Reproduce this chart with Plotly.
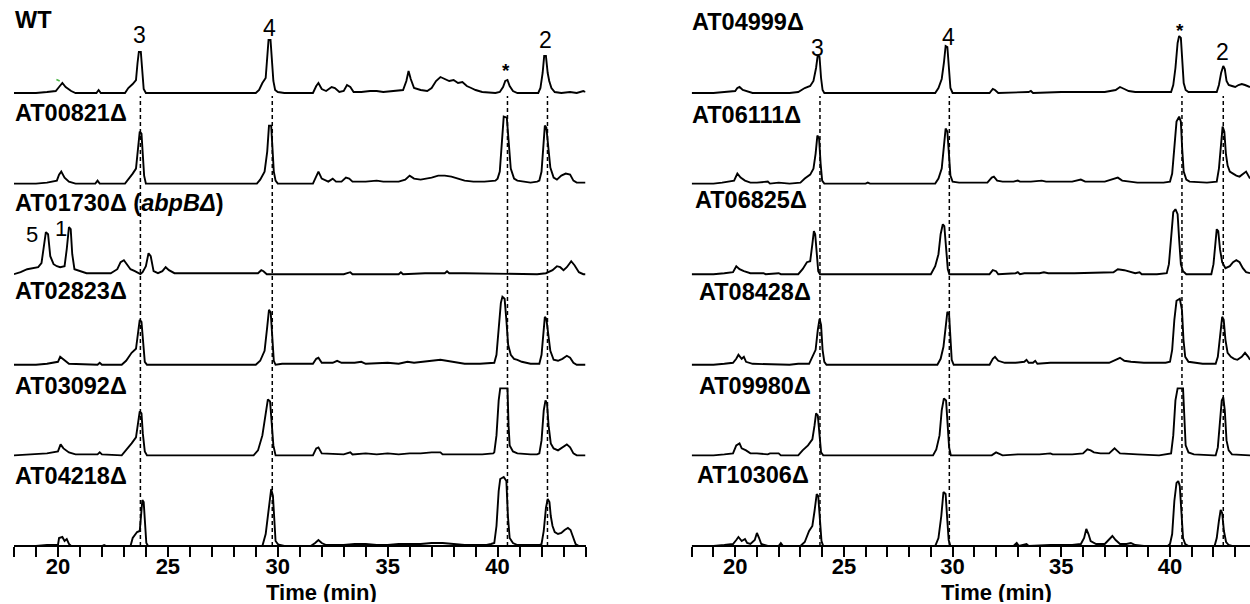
import plotly.graph_objects as go

# ---------------- data (time in min, signal in arbitrary units) ----------------
WT = [(18.0,0),(19.0,0),(19.5,1),(19.9,2),(20.05,6),(20.2,10),(20.35,6),(20.6,2),(20.8,0),(21.75,0),(21.85,3),(21.95,0),
      (23.05,0),(23.2,5),(23.4,9),(23.55,13),(23.62,30),(23.68,41),(23.77,41),(23.83,20),(23.9,4),(24.0,0),(26.5,0),
      (29.0,0),(29.15,3),(29.3,10),(29.45,15),(29.52,35),(29.58,53),(29.67,53),(29.73,30),(29.8,12),(29.88,3),(30.0,1),(30.3,0),
      (31.6,0),(31.75,7),(31.85,10),(32.0,4),(32.2,2),(32.45,6),(32.6,5),(32.8,1),(33.0,2),(33.15,8),(33.3,6),(33.45,1),(33.8,1),
      (34.2,2),(34.5,2),(34.8,1),(35.2,2),(35.7,3),(35.85,12),(35.95,22),(36.05,14),(36.2,5),(36.5,3),(36.8,2),(37.0,5),
      (37.2,12),(37.4,16),(37.6,14),(37.8,12),(38.0,13),(38.2,10),(38.4,11),(38.6,7),(38.8,5),(39.0,3),(39.3,1),(39.9,0),
      (40.1,1),(40.25,6),(40.35,12),(40.45,13),(40.55,7),(40.7,2),(40.9,0),(41.85,0),(41.95,5),(42.05,20),(42.12,37),(42.2,37),
      (42.28,20),(42.35,12),(42.45,5),(42.6,1),(42.9,0),(43.3,1),(43.6,0),(43.9,2),(44.0,1)]
AT00821 = [(18.0,0),(19.0,0),(19.5,1),(19.95,3),(20.05,9),(20.15,12),(20.3,6),(20.5,2),(20.8,0),(21.7,0),(21.8,3),(21.9,0),
      (23.05,0),(23.2,4),(23.4,10),(23.55,15),(23.65,35),(23.72,52),(23.8,50),(23.86,28),(23.92,8),(24.0,0),
      (29.05,0),(29.2,4),(29.4,12),(29.52,32),(29.6,58),(29.7,58),(29.76,34),(29.82,12),(29.9,3),(30.0,0),
      (31.6,0),(31.75,8),(31.85,12),(32.0,5),(32.3,2),(32.5,5),(32.65,2),(32.9,2),(33.1,6),(33.25,5),(33.4,2),(34.0,2),(34.5,3),
      (34.8,2),(35.5,2),(35.8,4),(36.0,8),(36.2,5),(36.5,4),(37.0,6),(37.3,8),(37.6,8),(37.9,7),(38.2,5),(38.5,3),(38.9,2),
      (39.4,2),(39.9,3),(40.0,5),(40.1,12),(40.2,40),(40.28,67),(40.42,66),(40.5,45),(40.6,15),(40.75,5),(40.9,3),(41.2,2),
      (41.5,1),(41.8,2),(41.9,3),(42.0,12),(42.08,40),(42.15,58),(42.22,56),(42.3,35),(42.4,16),(42.55,6),(42.7,4),(42.9,8),
      (43.1,10),(43.3,9),(43.45,3),(43.6,1),(44.0,1)]
AT01730 = [(18.0,0),(18.3,2),(18.6,5),(18.9,6),(19.1,7),(19.25,11),(19.35,25),(19.45,42),(19.55,40),(19.65,18),(19.8,10),
      (19.95,8),(20.1,7),(20.3,8),(20.4,25),(20.5,47),(20.58,45),(20.65,20),(20.75,5),(21.0,3),(21.3,1),(21.8,1),(22.4,1),
      (22.7,5),(22.85,12),(23.0,14),(23.15,9),(23.3,5),(23.5,3),(23.75,0),(23.85,2),(24.0,8),(24.12,21),(24.22,18),(24.35,3),
      (24.55,1),(24.75,3),(24.9,7),(25.05,4),(25.3,1),(26.5,1),(27.5,1),(28.5,1),(29.1,1),(29.25,4),(29.35,3),(29.5,0),
      (33.0,0),(33.3,2),(33.4,0),(35.5,0),(35.6,2),(35.7,0),(36.7,1),(37.6,1),(37.7,3),(37.8,1),(38.5,1),(41.8,0),(42.2,1),
      (42.5,4),(42.7,8),(42.85,7),(43.0,4),(43.15,7),(43.35,13),(43.5,9),(43.7,2),(43.9,0),(44.0,0)]
AT02823 = [(18.0,0),(19.0,0),(19.5,1),(20.0,3),(20.1,8),(20.25,5),(20.5,1),(21.8,0),(21.9,2),(22.0,0),(22.9,0),(23.1,4),
      (23.35,12),(23.55,16),(23.65,32),(23.72,45),(23.8,43),(23.87,20),(23.95,3),(24.05,0),
      (29.0,0),(29.2,4),(29.4,14),(29.52,38),(29.6,55),(29.68,52),(29.75,25),(29.82,4),(29.9,0),(30.2,1),(31.0,1),(31.6,1),
      (31.75,6),(31.85,7),(32.0,2),(32.5,2),(32.7,4),(32.9,2),(33.5,2),(33.8,3),(34.0,1),(34.6,2),(35.0,2),(35.5,1),(35.9,3),
      (36.2,2),(36.8,3),(37.0,4),(37.4,5),(37.7,4),(38.0,3),(38.5,1),(39.2,1),(39.8,2),(39.85,2),(39.95,10),(40.05,40),
      (40.15,62),(40.22,68),(40.32,66),(40.4,45),(40.48,20),(40.6,10),(40.75,6),(40.9,5),(41.1,3),(41.5,1),(41.8,1),(41.9,1),
      (42.0,10),(42.08,35),(42.15,48),(42.22,46),(42.3,30),(42.4,14),(42.55,5),(42.75,4),(42.95,6),(43.15,9),(43.3,7),
      (43.45,2),(43.6,0),(44.0,0)]
AT03092 = [(18.0,0),(19.2,1),(19.5,2),(20.0,4),(20.12,11),(20.25,7),(20.5,3),(20.8,1),(21.8,1),(21.9,3),(22.0,1),(22.9,0),
      (23.1,5),(23.35,12),(23.55,18),(23.65,32),(23.72,44),(23.8,42),(23.86,22),(23.95,4),(24.05,0),(28.9,0),(29.1,5),
      (29.3,20),(29.45,45),(29.55,56),(29.65,54),(29.72,35),(29.8,10),(29.9,0),(31.6,0),(31.75,7),(31.85,8),(32.0,2),(33.0,1),
      (33.3,3),(33.4,1),(34.0,2),(34.5,1),(35.0,2),(35.5,1),(36.0,2),(36.5,2),(37.0,3),(37.4,3),(37.5,1),(38.0,1),(39.3,1),
      (39.8,2),(39.85,3),(39.95,20),(40.05,55),(40.12,67),(40.45,67),(40.5,30),(40.55,10),(40.7,4),(40.9,2),(41.5,1),(41.8,1),
      (41.9,2),(42.0,15),(42.1,45),(42.18,55),(42.25,52),(42.32,30),(42.42,12),(42.55,7),(42.75,5),(42.95,8),(43.15,11),
      (43.3,8),(43.45,2),(43.6,0),(44.0,0)]
AT04218 = [(18.0,0),(19.0,0),(19.5,1),(20.0,1),(20.05,8),(20.2,9),(20.3,5),(20.4,7),(20.5,2),(20.6,0),(22.0,0),(22.1,1),
      (22.2,0),(23.3,0),(23.4,8),(23.6,14),(23.72,15),(23.78,35),(23.84,46),(23.9,44),(23.96,20),(24.02,3),(24.1,0),(29.3,0),
      (29.45,12),(29.55,30),(29.62,45),(29.7,57),(29.78,50),(29.84,20),(29.9,5),(30.0,2),(30.1,1),(30.3,0),(31.5,0),(31.7,3),
      (31.85,6),(32.0,3),(32.2,1),(33.0,1),(33.5,2),(34.0,2),(34.5,1),(35.0,1),(35.5,2),(36.0,2),(36.5,2),(37.0,3),(37.5,3),
      (38.0,2),(38.5,1),(39.0,1),(39.5,1),(39.7,2),(39.85,3),(39.95,20),(40.05,55),(40.12,67),(40.28,69),(40.4,65),(40.47,30),
      (40.55,8),(40.7,3),(40.9,1),(41.5,1),(41.9,1),(42.0,2),(42.1,15),(42.2,38),(42.28,47),(42.36,44),(42.42,30),(42.5,20),
      (42.6,14),(42.75,12),(42.9,13),(43.05,16),(43.2,18),(43.32,16),(43.45,8),(43.55,2),(43.7,0),(44.0,0)]

AT04999 = [(18.0,0),(19.0,0),(19.5,1),(20.0,2),(20.1,5),(20.2,6),(20.35,3),(20.5,2),(20.8,0),(22.5,0),(22.9,1),(23.2,5),
      (23.45,7),(23.6,12),(23.72,25),(23.8,38),(23.88,36),(23.95,15),(24.02,3),(24.1,0),(29.2,0),(29.35,5),(29.5,14),
      (29.6,30),(29.68,47),(29.76,46),(29.82,25),(29.9,5),(30.0,0),(31.7,0),(31.85,4),(31.95,3),(32.1,0),(33.5,1),(33.6,2),
      (33.7,0),(35.0,1),(35.5,1),(37.0,1),(37.5,3),(37.7,6),(37.9,4),(38.1,2),(38.4,1),(39.7,1),(40.05,1),(40.15,8),
      (40.25,25),(40.35,50),(40.42,57),(40.5,55),(40.56,30),(40.63,10),(40.72,3),(40.85,1),(41.8,1),(42.15,1),(42.25,8),
      (42.35,20),(42.45,27),(42.52,24),(42.6,12),(42.7,8),(42.85,7),(43.0,6),(43.15,8),(43.3,9),(43.45,8),(43.68,6)]
AT06111 = [(18.0,0),(19.0,0),(19.4,1),(19.7,2),(19.95,3),(20.1,10),(20.25,6),(20.45,3),(20.7,1),(21.0,1),(21.5,2),(21.6,0),
      (22.0,1),(22.5,0),(23.0,1),(23.2,5),(23.45,9),(23.6,15),(23.7,30),(23.78,48),(23.86,45),(23.93,20),(24.0,3),(24.1,0),
      (26.0,0),(26.1,1),(26.2,0),(29.2,0),(29.35,5),(29.5,15),(29.6,35),(29.68,55),(29.76,52),(29.82,30),(29.9,8),(30.0,2),
      (30.3,1),(31.0,1),(31.6,1),(31.8,6),(31.9,7),(32.05,3),(32.3,2),(32.8,2),(33.0,3),(33.1,2),(33.6,2),(34.1,3),(34.3,2),
      (35.0,2),(35.5,2),(35.9,4),(36.1,2),(37.0,2),(37.4,5),(37.6,6),(37.8,3),(38.5,1),(39.7,1),(40.0,2),(40.1,10),(40.2,35),
      (40.3,62),(40.42,67),(40.5,62),(40.56,35),(40.63,12),(40.75,4),(40.9,2),(41.7,1),(42.0,2),(42.15,2),(42.25,15),(42.35,45),
      (42.42,57),(42.5,52),(42.57,30),(42.65,18),(42.75,12),(42.9,10),(43.05,8),(43.2,7),(43.35,10),(43.5,12),(43.68,5)]
AT06825 = [(18.0,0),(19.0,0),(19.5,1),(19.9,2),(20.05,8),(20.2,5),(20.4,3),(20.7,1),(21.3,1),(21.4,0),(22.0,1),(22.1,0),
      (22.9,0),(23.1,5),(23.3,12),(23.45,13),(23.55,30),(23.62,43),(23.68,40),(23.75,18),(23.82,3),(23.9,0),(29.0,0),
      (29.2,8),(29.35,20),(29.45,40),(29.55,50),(29.62,48),(29.7,25),(29.78,5),(29.85,0),(31.7,0),(31.85,4),(32.0,3),(32.1,0),
      (32.9,1),(33.0,2),(33.1,0),(33.3,1),(34.0,1),(34.2,2),(34.4,1),(35.3,1),(35.6,1),(37.4,2),(37.6,5),(37.9,4),(38.2,2),
      (38.4,1),(38.6,2),(38.7,0),(39.4,0),(39.85,1),(39.95,10),(40.05,40),(40.15,62),(40.25,65),(40.35,60),(40.42,35),
      (40.5,10),(40.6,3),(40.75,0),(41.6,0),(41.9,0),(42.0,10),(42.08,30),(42.15,45),(42.22,43),(42.3,25),(42.4,12),(42.55,6),
      (42.75,8),(42.9,12),(43.05,14),(43.2,12),(43.35,6),(43.5,2),(43.68,1)]
AT08428 = [(18.0,0),(19.0,0),(19.5,1),(19.9,2),(20.05,6),(20.15,10),(20.3,6),(20.4,8),(20.5,3),(20.8,1),(22.5,0),(22.9,1),
      (23.4,1),(23.55,8),(23.7,15),(23.8,35),(23.88,46),(23.95,40),(24.02,15),(24.1,3),(24.2,0),(29.3,0),(29.45,6),(29.58,18),
      (29.68,35),(29.76,53),(29.84,50),(29.9,25),(29.96,5),(30.05,0),(31.7,0),(31.85,6),(31.95,8),(32.1,4),(32.4,2),(32.9,2),
      (33.3,3),(33.4,5),(33.5,2),(33.7,2),(33.8,4),(33.9,1),(34.5,2),(35.0,2),(35.5,2),(36.0,2),(37.2,2),(37.5,5),(37.7,7),
      (37.9,4),(38.2,3),(38.8,2),(39.3,2),(39.8,2),(40.0,3),(40.1,15),(40.2,45),(40.3,64),(40.45,66),(40.55,55),(40.62,25),
      (40.7,8),(40.85,3),(41.1,2),(41.5,1),(42.0,1),(42.1,1),(42.2,8),(42.3,30),(42.4,48),(42.47,45),(42.55,25),(42.65,12),
      (42.8,8),(42.95,6),(43.1,5),(43.3,8),(43.45,12),(43.6,8),(43.68,5)]
AT09980 = [(18.0,0),(19.0,0),(19.5,1),(19.9,2),(20.05,10),(20.2,12),(20.3,7),(20.5,5),(20.7,2),(21.0,2),(21.5,1),(21.6,2),
      (22.0,2),(22.1,0),(22.9,0),(23.1,5),(23.35,10),(23.55,16),(23.65,30),(23.72,42),(23.8,40),(23.87,18),(23.95,3),(24.05,0),
      (29.1,0),(29.25,6),(29.4,20),(29.5,45),(29.6,57),(29.7,55),(29.77,30),(29.84,8),(29.92,0),(31.8,0),(32.0,3),(32.1,2),
      (32.3,0),(33.0,1),(33.5,1),(34.0,1),(34.5,2),(34.6,1),(35.5,1),(36.0,2),(36.2,6),(36.35,5),(36.5,3),(36.8,2),(37.2,2),
      (37.45,7),(37.55,5),(37.7,2),(38.5,1),(39.5,0),(40.05,2),(40.15,20),(40.25,55),(40.35,67),(40.6,67),(40.66,35),
      (40.72,10),(40.85,3),(41.1,1),(42.0,0),(42.1,0),(42.2,8),(42.3,35),(42.38,55),(42.45,58),(42.52,45),(42.6,15),(42.7,5),
      (42.85,1),(43.68,0)]
AT10306 = [(18.0,0),(19.0,0),(19.5,1),(19.9,2),(20.05,6),(20.15,9),(20.3,5),(20.45,7),(20.55,3),(20.7,2),(20.9,6),(21.0,13),
      (21.1,8),(21.2,2),(21.5,0),(22.0,0),(22.1,3),(22.2,0),(23.0,0),(23.2,4),(23.4,15),(23.55,20),(23.65,35),(23.75,52),
      (23.82,50),(23.9,25),(23.97,5),(24.05,0),(29.2,0),(29.35,8),(29.48,30),(29.58,54),(29.68,52),(29.75,28),(29.82,6),
      (29.9,0),(32.8,0),(32.95,3),(33.05,0),(33.4,2),(33.5,0),(34.5,1),(35.5,1),(35.9,2),(36.05,8),(36.15,17),(36.25,12),
      (36.35,5),(36.6,2),(37.0,2),(37.2,6),(37.35,10),(37.5,6),(37.7,2),(38.0,2),(38.2,3),(38.4,1),(38.8,0),(39.9,0),(40.0,2),
      (40.1,12),(40.2,45),(40.3,63),(40.38,65),(40.45,60),(40.52,30),(40.6,8),(40.7,2),(40.85,0),(42.05,0),(42.15,8),(42.25,25),
      (42.33,36),(42.4,33),(42.48,15),(42.58,4),(42.7,1),(42.85,0),(43.68,0)]

LEFT_NAMES = ["WT", "AT00821Δ", "AT01730Δ (<i>abpBΔ</i>)", "AT02823Δ", "AT03092Δ", "AT04218Δ"]
LEFT_DATA = [WT, AT00821, AT01730, AT02823, AT03092, AT04218]
RIGHT_NAMES = ["AT04999Δ", "AT06111Δ", "AT06825Δ", "AT08428Δ", "AT09980Δ", "AT10306Δ"]
RIGHT_DATA = [AT04999, AT06111, AT06825, AT08428, AT09980, AT10306]

LEFT_MARKS = [23.75, 29.75, 40.45, 42.27]      # dashed guide lines (min)
RIGHT_MARKS = [23.9, 29.85, 40.55, 42.45]
LEFT_PEAK_LABELS = [("3", 23.7, 35), ("4", 29.64, 28), ("*", 40.4, 70), ("2", 42.17, 40)]
RIGHT_PEAK_LABELS = [("3", 23.8, 48), ("4", 29.8, 37), ("*", 40.46, 30), ("2", 42.42, 52)]
ABPB_LABELS = [("5", 32, 234), ("1", 61, 228)]
TICKS = list(range(18, 45))
TICK_LABELS = ["20", "25", "30", "35", "40"]

# ---------------- layout geometry (pixels) ----------------
W, H = 1250, 604
BASE = [93, 183.6, 274.2, 364.8, 455.4, 546]
ROW_H = 90.6
PAD = 4
LX = (14, 585.5)
RX = (691.7, 1250)
L_RANGE = [18, 44]
R_RANGE = [18, 18 + (RX[1] - RX[0]) / ((1170 - 691.7) / 22)]

def py(y):
    return (H - y) / H

fig = go.Figure()
FONT = "Liberation Sans, Arial, sans-serif"

layout = dict(width=W, height=H, margin=dict(l=0, r=0, t=0, b=0),
              paper_bgcolor="white", plot_bgcolor="rgba(0,0,0,0)", showlegend=False)

tick_text = [str(t) if str(t) in TICK_LABELS else "" for t in TICKS]
for xi, (xd, rng) in enumerate([(LX, L_RANGE), (RX, R_RANGE)]):
    name = "xaxis" if xi == 0 else "xaxis2"
    layout[name] = dict(domain=[xd[0] / W, xd[1] / W], range=rng, anchor="free", position=py(546),
                        showline=True, linecolor="black", linewidth=2, ticks="outside", ticklen=10,
                        tickwidth=1.6, tickcolor="black", tickmode="array", tickvals=TICKS, ticktext=tick_text,
                        tickfont=dict(family=FONT, size=22, color="black", weight="bold"),
                        ticklabelstandoff=-9,
                        showgrid=False, zeroline=False, fixedrange=True)

for side, (names, datas) in enumerate([(LEFT_NAMES, LEFT_DATA), (RIGHT_NAMES, RIGHT_DATA)]):
    for r, data in enumerate(datas):
        idx = side * 6 + r + 1
        yname = "yaxis" if idx == 1 else f"yaxis{idx}"
        b = BASE[r]
        layout[yname] = dict(domain=[py(b + PAD), py(b - (ROW_H - PAD))], range=[-PAD, ROW_H - PAD],
                             visible=False, anchor="x" if side == 0 else "x2", fixedrange=True)
        xs = [p[0] for p in data]
        ys = [p[1] for p in data]
        fig.add_trace(go.Scatter(x=xs, y=ys, mode="lines", line=dict(color="black", width=1.9),
                                 xaxis="x" if side == 0 else "x2", yaxis="y" if idx == 1 else f"y{idx}",
                                 hoverinfo="skip"))

# tiny green artefact on the WT trace
fig.add_trace(go.Scatter(x=[19.93, 20.08], y=[13.5, 12], mode="lines", line=dict(color="#4db848", width=1.6),
                         xaxis="x", yaxis="y", hoverinfo="skip"))

fig.update_layout(**layout)

# dashed guide lines
for xref, marks in (("x", LEFT_MARKS), ("x2", RIGHT_MARKS)):
    for m in marks:
        fig.add_shape(type="line", xref=xref, yref="paper", x0=m, x1=m, y0=py(546), y1=py(96),
                      line=dict(color="black", width=1.5, dash="4px,3px"), layer="below")

ann = []
label_y_left = [20, 113, 203, 291, 386, 476]
label_y_right = [22, 115, 200, 292, 386, 475]
label_x_right = [690, 690, 693, 697, 697, 695]
LBL_FONT = dict(family=FONT, size=23.5, color="black", weight="bold")
for i, n in enumerate(LEFT_NAMES):
    ann.append(dict(text=n, x=13 / W, y=py(label_y_left[i]), xref="paper", yref="paper", xanchor="left",
                    yanchor="middle", showarrow=False, font=LBL_FONT))
for i, n in enumerate(RIGHT_NAMES):
    ann.append(dict(text=n, x=label_x_right[i] / W, y=py(label_y_right[i]), xref="paper", yref="paper",
                    xanchor="left", yanchor="middle", showarrow=False, font=LBL_FONT))
for xref, labels in (("x", LEFT_PEAK_LABELS), ("x2", RIGHT_PEAK_LABELS)):
    for t, xv, yv in labels:
        ann.append(dict(text=t, x=xv, y=py(yv), xref=xref, yref="paper", xanchor="center", yanchor="middle",
                        showarrow=False, font=dict(family=FONT, size=23 if t != "*" else 19, color="black",
                                                   weight="bold" if t == "*" else "normal")))
for t, xp, yp in ABPB_LABELS:
    ann.append(dict(text=t, x=xp / W, y=py(yp), xref="paper", yref="paper", xanchor="center", yanchor="middle",
                    showarrow=False, font=dict(family=FONT, size=22, color="black")))
for xref in ("x", "x2"):
    ann.append(dict(text="Time (min)", x=32, y=py(592), xref=xref, yref="paper", xanchor="center",
                    yanchor="middle", height=20, valign="middle", showarrow=False,
                    font=dict(family=FONT, size=22, color="black", weight="bold")))
fig.update_layout(annotations=ann)

fig.write_html("out.html", config={"displayModeBar": False},
               post_script="document.body.style.margin='0px';document.body.style.overflow='hidden';")
